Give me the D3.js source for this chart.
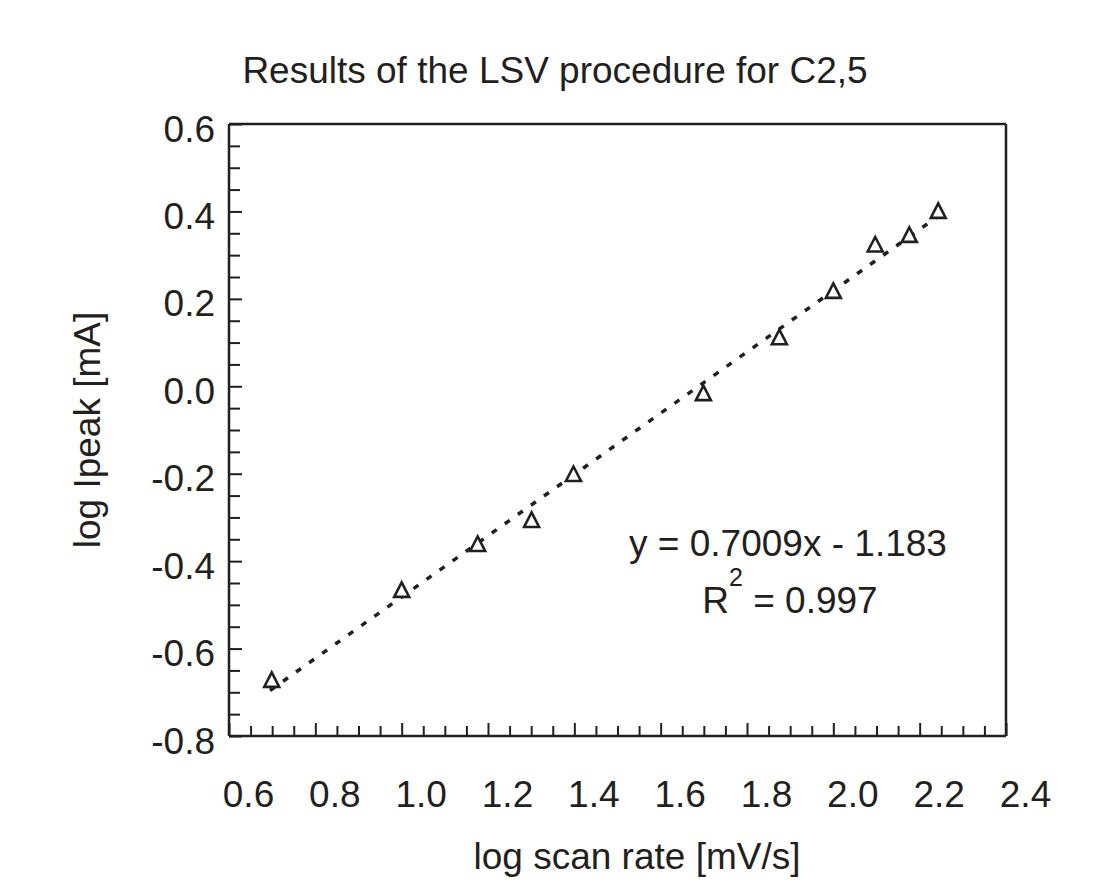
<!DOCTYPE html>
<html>
<head>
<meta charset="utf-8">
<script src="https://cdn.jsdelivr.net/npm/d3@7"></script>
<style>
  html, body { margin: 0; padding: 0; background: #fff; }
  text { font-family: "Liberation Sans", Arial, Helvetica, sans-serif; fill: #231f20; }
</style>
</head>
<body>
<svg id="chart" width="1112" height="882"></svg>
<script>
// ---- data ----
const logScanRate = [0.699, 1.000, 1.176, 1.301, 1.398, 1.699, 1.875, 2.000, 2.097, 2.176, 2.243];
const logIpeak    = [-0.674, -0.468, -0.363, -0.308, -0.203, -0.018, 0.110, 0.216, 0.322, 0.344, 0.399];
const xMajorTicks = [0.6, 0.8, 1.0, 1.2, 1.4, 1.6, 1.8, 2.0, 2.2, 2.4];
const yMajorTicks = [-0.8, -0.6, -0.4, -0.2, 0.0, 0.2, 0.4, 0.6];
const fitSlope = 0.7009;
const fitIntercept = -1.183;
const fitRange = [0.695, 2.25];
const titleText = "Results of the LSV procedure for C2,5";
const xTitle = "log scan rate [mV/s]";
const yTitle = "log Ipeak [mA]";
const eqText = "y = 0.7009x - 1.183";
const r2Value = "0.997";

// ---- layout ----
const L = 229, R = 1006, T = 124, B = 736;
const ink = "#231f20";
const svg = d3.select("#chart");

const x = d3.scaleLinear().domain([0.6, 2.4]).range([L, R]);
const y = d3.scaleLinear().domain([-0.8, 0.6]).range([B, T]);
const fmt = d => d.toFixed(1).replace("\u2212", "-");

const xMinor = d3.range(0.6, 2.4001, 0.05).map(v => +v.toFixed(2)).filter(v => !xMajorTicks.some(m => Math.abs(m - v) < 1e-6));
const yMinor = d3.range(-0.8, 0.6001, 0.05).map(v => +v.toFixed(2)).filter(v => !yMajorTicks.some(m => Math.abs(m - v) < 1e-6));

// frame top and right
svg.append("line").attr("x1", L).attr("x2", R).attr("y1", T).attr("y2", T)
  .attr("stroke", ink).attr("stroke-width", 2.5);
svg.append("line").attr("x1", R).attr("x2", R).attr("y1", T).attr("y2", B)
  .attr("stroke", ink).attr("stroke-width", 2.5);

// bottom axis
const gxMinor = svg.append("g").attr("transform", `translate(0,${B})`)
  .call(d3.axisBottom(x).tickValues(xMinor).tickSize(-10).tickFormat(""));
const gx = svg.append("g").attr("transform", `translate(0,${B})`)
  .call(d3.axisBottom(x).tickValues(xMajorTicks).tickSize(-13).tickFormat(fmt));
// left axis
const gyMinor = svg.append("g").attr("transform", `translate(${L},0)`)
  .call(d3.axisLeft(y).tickValues(yMinor).tickSize(-11).tickFormat(""));
const gy = svg.append("g").attr("transform", `translate(${L},0)`)
  .call(d3.axisLeft(y).tickValues(yMajorTicks).tickSize(-13).tickFormat(fmt));

[gx, gy, gxMinor, gyMinor].forEach(g => {
  g.select(".domain").attr("stroke", ink).attr("stroke-width", 2.5);
  g.selectAll(".tick line").attr("stroke", ink).attr("stroke-width", 2);
  g.selectAll(".tick text").attr("font-size", 37).attr("fill", ink)
    .attr("font-family", '"Liberation Sans", Arial, Helvetica, sans-serif');
});
gxMinor.select(".domain").remove();
gyMinor.select(".domain").remove();
gx.select(".domain").attr("d", `M${L},0H${R}`);
gy.select(".domain").attr("d", `M0,${T}V${B}`);

gx.selectAll(".tick text").attr("x", 19).attr("y", 71).attr("dy", 0);
gy.selectAll(".tick text").attr("x", -14).attr("y", 17).attr("dy", 0);

// fit line
const fitLine = d3.line().x(d => x(d)).y(d => y(fitSlope * d + fitIntercept));
svg.append("path").datum(fitRange).attr("d", fitLine)
  .attr("fill", "none").attr("stroke", ink).attr("stroke-width", 3.5)
  .attr("stroke-dasharray", "6,10");

// markers
const tri = "M0,-8.5L7.5,6L-7.5,6Z";
svg.append("g").selectAll("path").data(logScanRate.map((v, i) => [v, logIpeak[i]]))
  .join("path")
  .attr("d", tri)
  .attr("transform", d => `translate(${x(d[0])},${y(d[1])})`)
  .attr("fill", "#fff").attr("stroke", ink).attr("stroke-width", 2.6)
  .attr("stroke-linejoin", "miter");

// titles
svg.append("text").attr("x", 555).attr("y", 83).attr("text-anchor", "middle")
  .attr("font-size", 37).text(titleText);
svg.append("text").attr("x", 637).attr("y", 869).attr("text-anchor", "middle")
  .attr("font-size", 37).text(xTitle);
svg.append("text").attr("transform", `translate(100,${(T + B) / 2}) rotate(-90)`)
  .attr("text-anchor", "middle").attr("font-size", 37).text(yTitle);

// annotation
svg.append("text").attr("x", 788).attr("y", 556).attr("text-anchor", "middle")
  .attr("font-size", 37).text(eqText);
const r2 = svg.append("text").attr("x", 790).attr("y", 613).attr("text-anchor", "middle")
  .attr("font-size", 37);
r2.append("tspan").text("R");
r2.append("tspan").attr("font-size", 25).attr("dy", -27).text("2");
r2.append("tspan").attr("dy", 27).text(" = " + r2Value);
</script>
</body>
</html>
